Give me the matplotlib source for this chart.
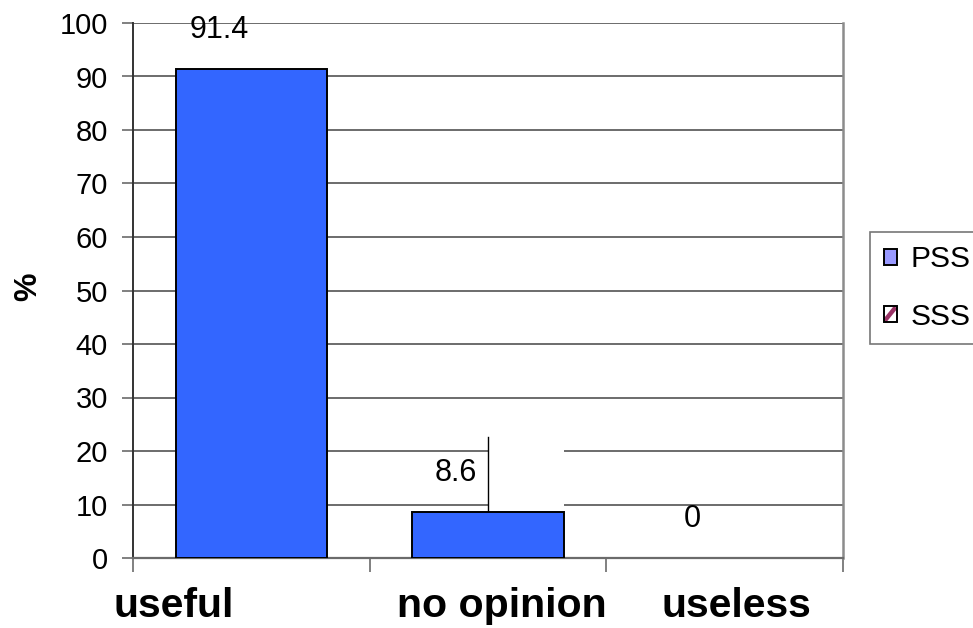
import matplotlib
matplotlib.use("Agg")
import matplotlib.pyplot as plt
from matplotlib.patches import Rectangle, Patch
from matplotlib.lines import Line2D
from matplotlib.legend_handler import HandlerBase

plt.rcParams["font.family"] = ["Liberation Sans", "DejaVu Sans"]

# Survey answers (percent)
categories = ["useful", "no opinion", "useless"]
pss_values = [91.4, 8.6, 0]
series_names = ["PSS", "SSS"]
y_ticks = [0, 10, 20, 30, 40, 50, 60, 70, 80, 90, 100]

# label horizontal nudges (in category units) for the bold category names
cat_label_dx = [-0.33, 0.06, 0.05]

BAR_BLUE = "#3366FF"
LEG_BLUE = "#9999FF"
MAROON = "#993366"
GRID = "#6b6b6b"

W, H, DPI = 973, 628, 100
fig = plt.figure(figsize=(W / DPI, H / DPI), dpi=DPI)
fig.patch.set_facecolor("white")

ax_l, ax_r, ax_t, ax_b = 133, 843, 23, 558
ax = fig.add_axes([ax_l / W, 1 - ax_b / H, (ax_r - ax_l) / W, (ax_b - ax_t) / H])

x = list(range(len(categories)))
bar_w = 0.64
bars = ax.bar(x, pss_values, width=bar_w, color=BAR_BLUE, edgecolor="black",
              linewidth=1.4, zorder=3)
for b, v in zip(bars, pss_values):
    if v == 0:
        b.set_linewidth(0)

ax.set_xlim(-0.5, len(categories) - 0.5)
ax.set_ylim(0, 100)
ax.set_yticks(y_ticks)
ax.set_yticklabels([str(t) for t in y_ticks], fontsize=21)
ax.tick_params(axis="y", direction="out", length=8, width=1.2, color=GRID, pad=10)

# category boundary ticks along the bottom
ax.set_xticks([i - 0.5 for i in range(len(categories) + 1)])
ax.set_xticklabels([])
ax.tick_params(axis="x", direction="out", length=10, width=1.2, color=GRID)

ax.yaxis.grid(True, color=GRID, linewidth=1.4, zorder=0)
ax.set_axisbelow(True)

ax.spines["left"].set_color("#333333")
ax.spines["left"].set_linewidth(1.4)
ax.spines["bottom"].set_color(GRID)
ax.spines["bottom"].set_linewidth(1.6)
ax.spines["right"].set_color("#8c8c8c")
ax.spines["right"].set_linewidth(1.8)
ax.spines["top"].set_visible(False)

# white call-out box beside the "no opinion" label
ax.add_patch(Rectangle((1, pss_values[1]), bar_w / 2, 22.6 - pss_values[1],
                       facecolor="white", edgecolor="none", zorder=2))
ax.plot([1, 1], [pss_values[1], 22.6], color="black", linewidth=1.0, zorder=2.5)

# value labels
for xi, v in zip(x, pss_values):
    ax.annotate(f"{v:g}", xy=(xi - 0.135, v), xytext=(0, 28),
                textcoords="offset points", ha="center", va="center",
                fontsize=22, zorder=4)

# bold category names
name_y = -(617 - ax_b) / (ax_b - ax_t)
for xi, name, dx in zip(x, categories, cat_label_dx):
    ax.text(xi + dx, name_y, name, transform=ax.get_xaxis_transform(),
            ha="center", va="baseline", fontsize=29.5, fontweight="bold")

fig.text(28 / W, 1 - 287 / H, "%", rotation=90, ha="center", va="center",
         fontsize=23, fontweight="bold")


class StripedSwatch(HandlerBase):
    """White square with a single thick diagonal stripe."""

    def create_artists(self, legend, orig_handle, xdescent, ydescent,
                       width, height, fontsize, trans):
        x0, y0 = -xdescent, -ydescent
        box = Rectangle((x0, y0), width, height, facecolor="white",
                        edgecolor="none", transform=trans)
        stripe = Line2D([x0 + 1, x0 + width - 1], [y0 + 1, y0 + height - 1],
                        color=MAROON, linewidth=3.2, transform=trans,
                        solid_capstyle="butt")
        edge = Rectangle((x0, y0), width, height, facecolor="none",
                         edgecolor="black", linewidth=1.4, transform=trans)
        return [box, stripe, edge]


pss_handle = Patch(facecolor=LEG_BLUE, edgecolor="black", linewidth=1.4)
sss_handle = Patch(facecolor="white", edgecolor=MAROON)
leg = fig.legend([pss_handle, sss_handle], series_names, loc="upper left",
                 bbox_to_anchor=(870 / W, 1 - 232 / H), fontsize=21.6,
                 frameon=True, fancybox=False, borderpad=0.45,
                 handlelength=0.45, handleheight=0.45, handletextpad=0.45,
                 labelspacing=0.97, borderaxespad=0,
                 handler_map={sss_handle: StripedSwatch()})
leg.get_frame().set_edgecolor("#555555")
leg.get_frame().set_linewidth(1.2)

fig.savefig("out.png", dpi=DPI)
